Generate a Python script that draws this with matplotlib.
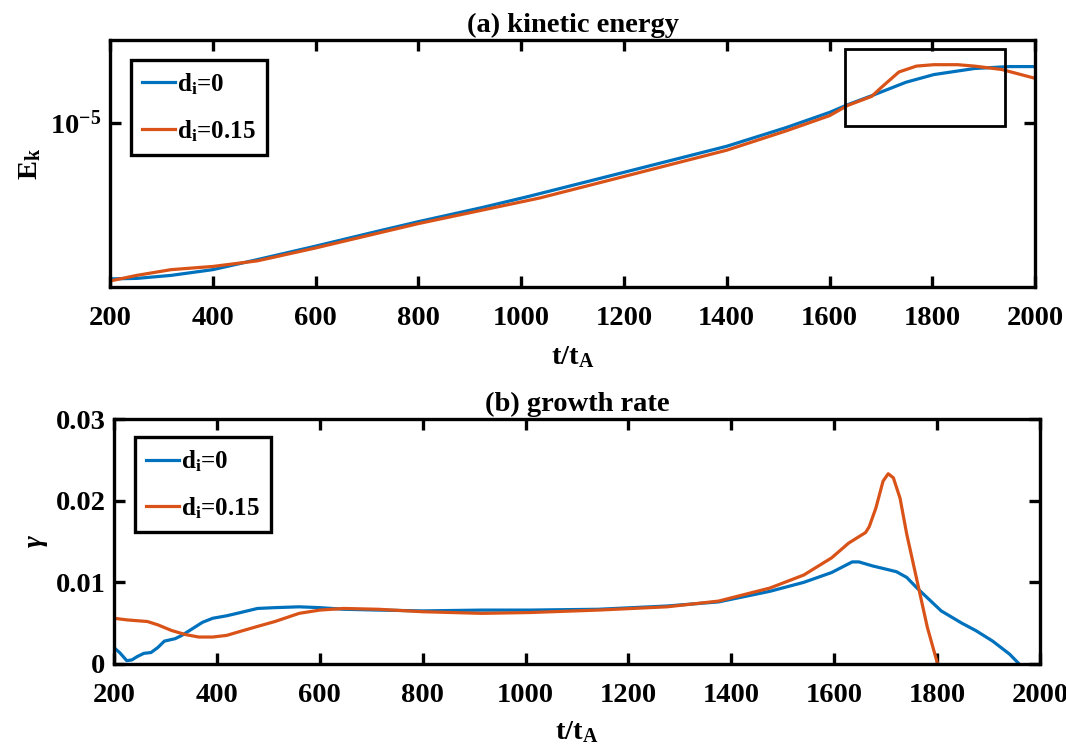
import matplotlib
matplotlib.use('Agg')
import matplotlib.pyplot as plt
from matplotlib.patches import Rectangle
from matplotlib.ticker import FixedLocator, FixedFormatter, NullLocator, MultipleLocator

plt.rcParams['font.family'] = ['Liberation Serif', 'DejaVu Serif']
plt.rcParams['font.weight'] = 'bold'
plt.rcParams['mathtext.fontset'] = 'custom'
plt.rcParams['mathtext.rm'] = 'Liberation Serif:bold'
plt.rcParams['mathtext.bf'] = 'Liberation Serif:bold'
plt.rcParams['mathtext.it'] = 'Liberation Serif:italic'

BLUE = '#0072BD'
ORANGE = '#D95319'

# (a) kinetic energy, log scale
t_ek0 = [200, 252, 319, 400, 487, 600, 722, 800, 923, 1015, 1200, 1400, 1515,
         1600, 1635, 1682, 1749, 1803, 1882, 1949, 2000]
ek0 = [1.74, 1.75, 1.81, 1.93, 2.16, 2.51, 2.97, 3.30, 3.86, 4.38, 5.73, 7.67, 9.44,
       11.2, 12.2, 13.5, 15.7, 17.1, 18.3, 18.7, 18.7]
t_ek15 = [200, 252, 319, 400, 487, 600, 800, 1036, 1200, 1400, 1515, 1600, 1635,
          1682, 1702, 1735, 1769, 1803, 1849, 1882, 1935, 2000]
ek15 = [1.70, 1.81, 1.93, 2.00, 2.13, 2.46, 3.23, 4.30, 5.47, 7.34, 9.10, 10.8, 12.1,
        13.4, 14.9, 17.6, 18.8, 19.1, 19.1, 18.8, 18.1, 16.4]
ek0 = [v * 1e-6 for v in ek0]
ek15 = [v * 1e-6 for v in ek15]

# (b) growth rate
t_g0 = [200, 211, 225, 235, 245, 258, 272, 285, 298, 319, 332, 352, 372, 392, 419,
        446, 479, 513, 560, 600, 647, 714, 800, 915, 1008, 1141, 1275, 1375, 1475,
        1541, 1595, 1635, 1648, 1675, 1695, 1721, 1741, 1761, 1808, 1848, 1875,
        1908, 1941, 1958]
g0 = [0.0020, 0.0014, 0.0004, 0.0005, 0.0009, 0.0013, 0.0014, 0.0020, 0.0028,
      0.0031, 0.0035, 0.0043, 0.0051, 0.0056, 0.0059, 0.0063, 0.0068, 0.0069,
      0.0070, 0.0069, 0.0067, 0.0066, 0.0065, 0.0066, 0.0066, 0.0067, 0.0071,
      0.0076, 0.0089, 0.0100, 0.0112, 0.0125, 0.0125, 0.0120, 0.0117, 0.0113,
      0.0106, 0.0093, 0.0065, 0.0050, 0.0041, 0.0028, 0.0012, 0.0001]
t_g15 = [200, 225, 245, 265, 285, 312, 339, 365, 392, 419, 446, 479, 513, 560, 600,
         647, 714, 800, 915, 1008, 1141, 1275, 1375, 1475, 1541, 1595, 1628, 1661,
         1668, 1681, 1695, 1705, 1715, 1728, 1741, 1761, 1781, 1801]
g15 = [0.0056, 0.0054, 0.0053, 0.0052, 0.0048, 0.0041, 0.0036, 0.0033, 0.0033,
       0.0035, 0.0040, 0.0046, 0.0052, 0.0062, 0.0066, 0.0068, 0.0067, 0.0064,
       0.0062, 0.0063, 0.0066, 0.0070, 0.0077, 0.0093, 0.0109, 0.0130, 0.0148,
       0.0161, 0.0168, 0.0191, 0.0224, 0.0233, 0.0228, 0.0203, 0.0159, 0.0102,
       0.0045, 0.0]

labels = [r'$\mathbf{d_i}$=0', r'$\mathbf{d_i}$=0.15']
zoom_box = (1630, 1942, 9.6e-6, 2.28e-5)

FS = 20.5
LFS = 18


def style_axes(ax):
    for s in ax.spines.values():
        s.set_linewidth(2.4)
    ax.tick_params(which='both', direction='in', top=True, right=True,
                   length=8, width=2.4, labelsize=FS)
    ax.tick_params(axis='x', pad=14)
    ax.tick_params(axis='y', pad=6)
    for lab in ax.get_xticklabels() + ax.get_yticklabels():
        lab.set_fontweight('bold')


def add_legend(ax, anchor):
    leg = ax.legend(loc='upper left', bbox_to_anchor=anchor,
                    borderaxespad=0, fontsize=LFS, handlelength=1.3,
                    handletextpad=0.1, borderpad=0.45, labelspacing=0.85,
                    fancybox=False, edgecolor='black', framealpha=1)
    leg.get_frame().set_linewidth(2.4)
    return leg


fig = plt.figure(figsize=(10.66, 7.5), dpi=100)
ax1 = fig.add_axes([0.1032, 0.6173, 0.8678, 0.3294])
ax2 = fig.add_axes([0.1069, 0.1147, 0.8687, 0.3266])

ax1.plot(t_ek0, ek0, color=BLUE, lw=2.3, label=labels[0])
ax1.plot(t_ek15, ek15, color=ORANGE, lw=2.3, label=labels[1])
ax1.set_yscale('log')
ax1.set_xlim(200, 2000)
ax1.set_ylim(1.589e-6, 2.518e-5)
ax1.yaxis.set_major_locator(FixedLocator([1e-5]))
ax1.yaxis.set_major_formatter(FixedFormatter([r'$\mathbf{10^{-5}}$']))
ax1.yaxis.set_minor_locator(NullLocator())
ax1.xaxis.set_major_locator(MultipleLocator(200))
x0, x1, y0, y1 = zoom_box
ax1.add_patch(Rectangle((x0, y0), x1 - x0, y1 - y0, fill=False,
                        edgecolor='black', lw=2.0, zorder=5))
ax1.set_title('(a) kinetic energy', fontsize=FS, fontweight='bold', pad=6)
ax1.set_xlabel(r'$\mathbf{t/t_A}$', fontsize=FS, labelpad=9)
ax1.set_ylabel(r'$\mathbf{E_k}$', fontsize=FS, labelpad=5)
add_legend(ax1, (0.0227, 0.919))
style_axes(ax1)

ax2.plot(t_g0, g0, color=BLUE, lw=2.3, label=labels[0])
ax2.plot(t_g15, g15, color=ORANGE, lw=2.3, label=labels[1])
ax2.set_xlim(200, 2000)
ax2.set_ylim(0, 0.03)
ax2.set_yticks([0, 0.01, 0.02, 0.03])
ax2.set_yticklabels(['0', '0.01', '0.02', '0.03'])
ax2.xaxis.set_major_locator(MultipleLocator(200))
ax2.set_title('(b) growth rate', fontsize=FS, fontweight='bold', pad=6)
ax2.set_xlabel(r'$\mathbf{t/t_A}$', fontsize=FS, labelpad=8)
ax2.set_ylabel(r'$\gamma$', fontsize=FS, labelpad=4)
add_legend(ax2, (0.0227, 0.9265))
style_axes(ax2)

fig.savefig('out.png', dpi=100)
